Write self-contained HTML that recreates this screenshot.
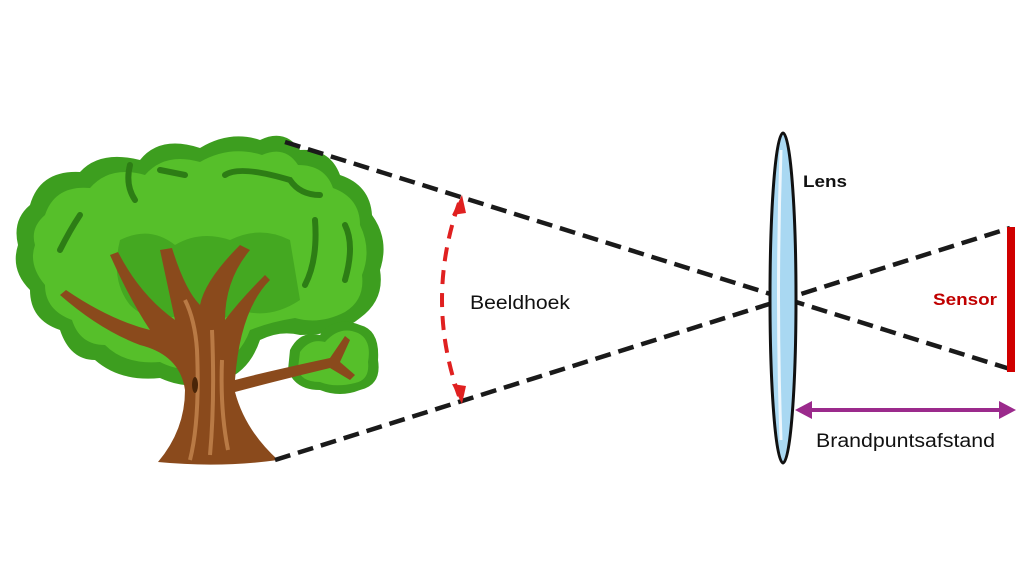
<!DOCTYPE html>
<html><head><style>
html,body{margin:0;padding:0;background:#fff;}
svg{display:block}
text{font-family:"Liberation Sans",sans-serif}
</style></head><body>
<svg width="1024" height="576" viewBox="0 0 1024 576">
<!-- canopy -->
<path d="M30,205 Q40,170 80,172 Q100,150 140,160 Q160,135 200,148 Q230,130 260,140 Q285,128 300,150 Q330,148 340,175 Q370,185 372,215 Q390,240 380,270 Q385,300 360,318 Q340,335 300,335 Q280,330 260,340 Q250,370 225,380 Q190,392 160,378 Q120,382 95,360 Q70,360 60,330 Q30,320 30,290 Q10,270 18,245 Q12,220 30,205Z" fill="#3d9e1f"/>
<path d="M45,215 Q55,185 90,188 Q110,165 145,175 Q165,152 200,162 Q230,145 262,155 Q285,145 298,165 Q325,165 333,188 Q360,198 360,225 Q372,250 362,275 Q365,300 345,312 Q320,325 295,318 Q270,322 250,330 Q240,358 215,365 Q185,375 160,362 Q125,365 105,345 Q80,345 72,320 Q45,310 45,285 Q28,265 35,245 Q30,228 45,215Z" fill="#56bf2a"/>
<path d="M120,240 Q150,225 175,245 Q200,230 230,240 Q260,225 290,240 L300,300 Q270,320 240,310 Q210,330 180,315 Q150,325 130,305 Q110,280 120,240Z" fill="#44a821"/>
<path d="M60,250 Q70,230 80,215" stroke="#2d7d15" stroke-width="6" fill="none" stroke-linecap="round"/>
<path d="M130,165 Q125,185 135,200 M160,170 L185,175" stroke="#2d7d15" stroke-width="6" fill="none" stroke-linecap="round"/>
<path d="M225,175 Q240,165 290,180 Q300,195 320,195" stroke="#2d7d15" stroke-width="6" fill="none" stroke-linecap="round"/>
<path d="M315,220 Q318,260 305,285 M345,225 Q355,245 345,280" stroke="#2d7d15" stroke-width="6" fill="none" stroke-linecap="round"/>
<!-- small blob -->
<path d="M290,350 Q300,330 320,335 Q335,315 360,325 Q380,330 378,360 Q382,385 360,390 Q340,398 320,390 Q295,390 288,370Z" fill="#3d9e1f"/>
<path d="M300,352 Q310,338 325,342 Q340,325 358,333 Q372,340 368,362 Q370,380 355,383 Q335,388 320,382 Q300,382 298,368Z" fill="#56bf2a"/>
<!-- trunk -->
<path d="M158,462 Q185,430 185,390 Q180,355 140,345 Q100,330 60,295 L66,290 Q110,320 150,330 Q130,300 110,255 L118,252 Q140,295 175,320 L160,250 L172,248 Q185,290 200,305 Q205,280 240,245 L250,250 Q225,280 225,320 Q240,300 265,275 L270,280 Q240,310 235,380 Q265,372 330,358 L345,336 L350,340 L340,362 L355,375 L350,380 L330,368 Q280,380 235,392 Q245,430 278,460 Q220,468 158,462Z" fill="#8a4a1c"/>
<path d="M190,460 Q200,420 197,350 Q195,320 185,300 M210,455 Q215,400 212,330 M228,450 Q220,410 222,360" stroke="#b97a45" stroke-width="4" fill="none"/>
<ellipse cx="195" cy="385" rx="3" ry="8" fill="#4a2508"/>
<!-- dashed lines -->
<g stroke="#1a1a1a" stroke-width="4.5" stroke-dasharray="16,8" fill="none">
<line x1="285" y1="142" x2="1010" y2="369"/>
<line x1="275" y1="460" x2="1010" y2="228"/>
</g>
<!-- lens -->
<ellipse cx="783" cy="298" rx="13" ry="165" fill="#a9d8f2" stroke="#111" stroke-width="3"/>
<path d="M781,150 Q776,298 781,440" stroke="#fff" stroke-width="3" fill="none" opacity="0.8"/>
<!-- sensor -->
<rect x="1007" y="227" width="8" height="145" fill="#d00000"/>
<!-- red arc -->
<path d="M459,203 Q425,300 459,396" stroke="#e02020" stroke-width="4" stroke-dasharray="14,9" fill="none"/>
<polygon points="462,195 452,215 466,213" fill="#e02020"/>
<polygon points="462,404 452,384 466,386" fill="#e02020"/>
<!-- purple arrow -->
<line x1="805" y1="410" x2="1005" y2="410" stroke="#9b2a8c" stroke-width="4"/>
<polygon points="795,410 812,401 812,419" fill="#9b2a8c"/>
<polygon points="1016,410 999,401 999,419" fill="#9b2a8c"/>
<text x="470" y="309" font-size="19" fill="#111" textLength="100" lengthAdjust="spacingAndGlyphs">Beeldhoek</text>
<text x="803" y="187" font-size="17" font-weight="bold" fill="#111" textLength="44" lengthAdjust="spacingAndGlyphs">Lens</text>
<text x="933" y="305" font-size="17" font-weight="bold" fill="#c00000" textLength="64" lengthAdjust="spacingAndGlyphs">Sensor</text>
<text x="816" y="447" font-size="19" fill="#111" textLength="179" lengthAdjust="spacingAndGlyphs">Brandpuntsafstand</text>
</svg>
</body></html>
